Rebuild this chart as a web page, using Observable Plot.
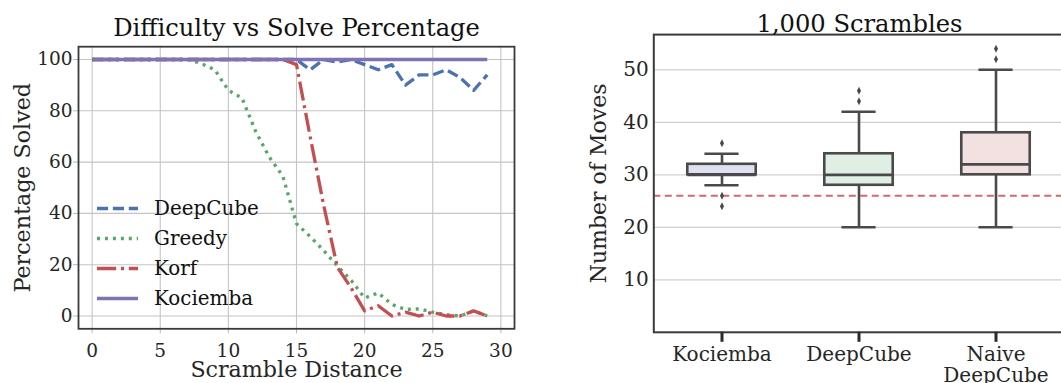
<!DOCTYPE html>
<html><head><meta charset="utf-8">
<script src="https://cdn.jsdelivr.net/npm/d3@7"></script>
<script src="https://cdn.jsdelivr.net/npm/@observablehq/plot@0.6"></script>
<style>
html,body{margin:0;padding:0;background:#fff;overflow:hidden;width:1061px;height:383px}
#wrap{position:relative;width:1061px;height:383px;overflow:hidden;background:#fff}
#left{position:absolute;left:0;top:0;width:540px;height:383px}
#right{position:absolute;left:530px;top:0;width:540px;height:383px}
#legend{position:absolute;left:0;top:0;width:540px;height:383px;pointer-events:none}
svg{max-width:none !important}
</style></head><body>
<div id="wrap"><div id="left"></div><div id="right"></div><div id="legend"></div></div>
<script>
// ---------- Left chart data ----------
const distance = [0,1,2,3,4,5,6,7,8,9,10,11,12,13,14,15,16,17,18,19,20,21,22,23,24,25,26,27,28,29];
const deepCube = [100,100,100,100,100,100,100,100,100,100,100,100,100,100,100,100,96,100,99,100,98,96,98,90,94,94,96,93,88,94];
const greedy   = [100,100,100,100,100,100,100,100,98.5,96,88,85,72,62,54.5,36,31,25.5,19.5,14,7,9,4.5,2.5,2.8,1.5,0.5,0,2,0];
const korf     = [100,100,100,100,100,100,100,100,100,100,100,100,100,100,100,98,70,43,19,11,2,4,0,1.5,0,1.5,0,0,2,0];
const kociemba = [100,100,100,100,100,100,100,100,100,100,100,100,100,100,100,100,100,100,100,100,100,100,100,100,100,100,100,100,100,100];
const seriesNames = ["DeepCube", "Greedy", "Korf", "Kociemba"];
const seriesValues = [deepCube, greedy, korf, kociemba];
const xTicksLeft = [0,5,10,15,20,25,30];
const yTicksLeft = [0,20,40,60,80,100];

// ---------- Right chart data ----------
const methods = ["Kociemba", "DeepCube", "Naive DeepCube"];
const methodLabels = ["Kociemba", "DeepCube", "Naive\nDeepCube"];
const q1 = [30, 28, 30];
const median = [30, 30, 32];
const q3 = [32, 34, 38];
const whiskerLow = [28, 20, 20];
const whiskerHigh = [34, 42, 50];
const outlierMethod = ["Kociemba","Kociemba","Kociemba","DeepCube","DeepCube","Naive DeepCube","Naive DeepCube"];
const outlierMoves = [36, 26, 24, 44, 46, 52, 54];
const optimalLine = [26];
const yTicksRight = [10,20,30,40,50];

// ---------- styles ----------
const lineStyles = {
  DeepCube: {stroke: "#4c72b0", dash: "11.1,4.8"},
  Greedy:   {stroke: "#55a868", dash: "3,4.95"},
  Korf:     {stroke: "#c44e52", dash: "19.2,4.8,3,4.8"},
  Kociemba: {stroke: "#8172b2", dash: null}
};
const boxFill = {"Kociemba": "#dde1f0", "DeepCube": "#e0efe4", "Naive DeepCube": "#f3e0e1"};
const FONT = "DejaVu Serif";
const ink = "#262626";
const boxStroke = "#4a4a4a";
const LW = 3.3;

// ---------- Left plot ----------
const rows = [];
seriesNames.forEach((name, s) => distance.forEach((d, i) => rows.push({method: name, distance: d, pct: seriesValues[s][i]})));

const leftMarks = [
  Plot.gridX(xTicksLeft, {stroke: "#c4c4c4", strokeOpacity: 1, strokeWidth: 1.1}),
  Plot.gridY(yTicksLeft, {stroke: "#c4c4c4", strokeOpacity: 1, strokeWidth: 1.1}),
  Plot.axisX(xTicksLeft, {tickSize: 5, tickPadding: 10, stroke: "#b8b8b8", fill: ink, fontSize: 18.5, label: null}),
  Plot.axisY(yTicksLeft, {tickSize: 5, tickPadding: 1, stroke: "#b8b8b8", fill: ink, fontSize: 18.5, label: null}),
];
seriesNames.forEach(name => {
  const st = lineStyles[name];
  leftMarks.push(Plot.line(rows.filter(r => r.method === name), {
    x: "distance", y: "pct", stroke: st.stroke, strokeWidth: LW,
    strokeDasharray: st.dash || undefined, strokeLinecap: "butt", strokeLinejoin: "round"
  }));
});
leftMarks.push(
  Plot.frame({stroke: "#3a3a3a", strokeWidth: 1.8}),
  Plot.text(["Difficulty vs Solve Percentage"], {text: d => d, frameAnchor: "top", dy: -11, lineAnchor: "bottom", fontSize: 24.2, fill: "#111"}),
  Plot.text(["Scramble Distance"], {text: d => d, frameAnchor: "bottom", dy: 48, lineAnchor: "bottom", fontSize: 22.2, fill: ink}),
  Plot.text(["Percentage Solved"], {text: d => d, frameAnchor: "left", textAnchor: "middle", rotate: -90, dx: -48.5, lineAnchor: "bottom", fontSize: 22.2, fill: ink})
);

const left = Plot.plot({
  width: 540, height: 383,
  marginLeft: 78, marginRight: 26, marginTop: 46.2, marginBottom: 54.7,
  x: {domain: [-1, 31]},
  y: {domain: [-5, 105]},
  style: {fontFamily: FONT, fontSize: "18px", color: ink, background: "white", overflow: "visible"},
  marks: leftMarks
});
document.getElementById("left").appendChild(left);

// Legend (drawn with d3 as an overlay)
const lg = d3.select("#legend").append("svg").attr("width", 540).attr("height", 383)
  .style("font-family", FONT).style("font-size", "19.9px");
seriesNames.forEach((name, i) => {
  const st = lineStyles[name];
  const y = 208.5 + 30 * i;
  lg.append("line").attr("x1", 97).attr("x2", 138).attr("y1", y).attr("y2", y)
    .attr("stroke", st.stroke).attr("stroke-width", LW)
    .attr("stroke-dasharray", st.dash);
  lg.append("text").attr("x", 154).attr("y", y).attr("dy", "0.35em").attr("fill", "#111").text(name);
});

// ---------- Right plot ----------
const boxes = methods.map((m, i) => ({method: m, q1: q1[i], median: median[i], q3: q3[i], lo: whiskerLow[i], hi: whiskerHigh[i], fill: boxFill[m]}));
const outliers = outlierMethod.map((m, i) => ({method: m, moves: outlierMoves[i]}));
const thinDiamond = {
  draw(context, size) {
    const r = Math.sqrt(size) / 2;
    const w = r * 0.5;
    context.moveTo(0, -r); context.lineTo(w, 0); context.lineTo(0, r); context.lineTo(-w, 0); context.closePath();
  }
};
const band = 137.1;
const boxInset = band * 0.25;
const capInset = band * 0.375;

const right = Plot.plot({
  width: 540, height: 383,
  marginLeft: 123.3, marginRight: 5.4, marginTop: 34.1, marginBottom: 51.2,
  x: {type: "band", domain: methods, padding: 0},
  y: {domain: [0, 56.7]},
  color: {type: "identity"},
  style: {fontFamily: FONT, fontSize: "20px", color: ink, background: "white", overflow: "visible"},
  marks: [
    Plot.gridY(yTicksRight, {stroke: "#d0d0d0", strokeOpacity: 1, strokeWidth: 1.3}),
    Plot.ruleY(optimalLine, {stroke: "#cc5a5e", strokeWidth: 2, strokeDasharray: "7,4.5", strokeOpacity: 0.9}),
    Plot.ruleX(boxes, {x: "method", y1: "lo", y2: "q1", stroke: boxStroke, strokeWidth: 2.6}),
    Plot.ruleX(boxes, {x: "method", y1: "q3", y2: "hi", stroke: boxStroke, strokeWidth: 2.6}),
    Plot.tickY(boxes, {x: "method", y: "lo", inset: capInset, stroke: boxStroke, strokeWidth: 2.6}),
    Plot.tickY(boxes, {x: "method", y: "hi", inset: capInset, stroke: boxStroke, strokeWidth: 2.6}),
    Plot.barY(boxes, {x: "method", y1: "q1", y2: "q3", fill: "fill", stroke: boxStroke, strokeWidth: 2.6, insetLeft: boxInset, insetRight: boxInset}),
    Plot.tickY(boxes, {x: "method", y: "median", inset: boxInset, stroke: boxStroke, strokeWidth: 2.8}),
    Plot.dot(outliers, {x: "method", y: "moves", symbol: thinDiamond, r: 4.6, fill: boxStroke, stroke: "none"}),
    Plot.frame({stroke: "#3a3a3a", strokeWidth: 2}),
    Plot.axisY(yTicksRight, {tickSize: 0, tickPadding: 5, fill: ink, fontSize: 20, label: null}),
    Plot.axisX({tickSize: 10, tickPadding: 4, stroke: "#2a2a2a", strokeWidth: 3, fill: ink, fontSize: 20, lineHeight: 1.05, label: null,
      tickFormat: d => methodLabels[methods.indexOf(d)]}),
    Plot.text(["1,000 Scrambles"], {text: d => d, frameAnchor: "top", dy: -2.5, lineAnchor: "bottom", fontSize: 24.2, fill: "#111"}),
    Plot.text(["Number of Moves"], {text: d => d, frameAnchor: "left", textAnchor: "middle", rotate: -90, dx: -48.3, lineAnchor: "bottom", fontSize: 22, fill: ink})
  ]
});
document.getElementById("right").appendChild(right);
</script>
</body></html>
